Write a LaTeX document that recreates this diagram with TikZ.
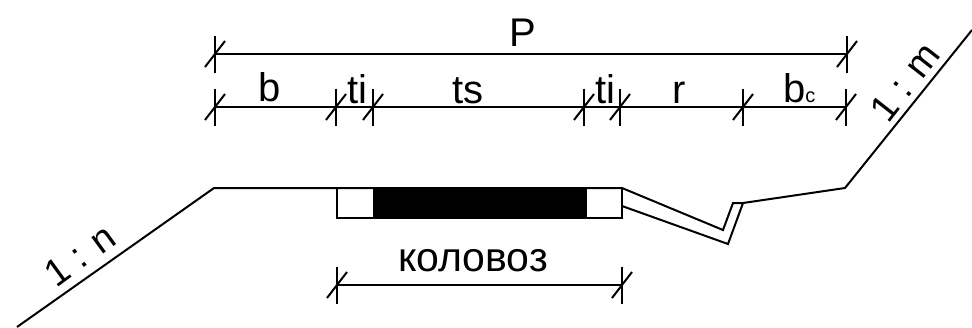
\documentclass[tikz,border=0pt]{standalone}
\usepackage{fontspec}
\setmainfont{Liberation Sans}
\newcommand{\dimtick}[2]{%
  \draw[tickline] (#1,#2-18.5) -- (#1,#2+18.5);
  \draw[tickline] (#1-10,#2+13) -- (#1+10,#2-13);
}
\tikzset{
  mainline/.style={line width=2pt,line join=miter,black},
  dimline/.style={line width=2pt,black},
  tickline/.style={line width=2pt,black},
  lbl/.style={inner sep=0pt,anchor=base,font=\fontsize{40}{40}\selectfont},
  slope/.style={inner sep=0pt,font=\fontsize{38}{38}\selectfont},
}
\begin{document}
\begin{tikzpicture}[x=1pt,y=-1pt]
\useasboundingbox (0,0) rectangle (972,327);
\fill[white] (0,0) rectangle (972,327);
% ground profile
\coordinate (g0) at (17,327);
\coordinate (g1) at (214,188);
\coordinate (g2) at (622,188);
\coordinate (g3) at (723,230);
\coordinate (g4) at (733,203);
\coordinate (g5) at (743,203);
\coordinate (g6) at (845,188);
\coordinate (g7) at (972,30);
\coordinate (d1) at (622,206);
\coordinate (d2) at (728,244);
\draw[mainline] (g0) -- (g1) -- (g2) -- (g3) -- (g4) -- (g5) -- (g6) -- (g7);
\draw[mainline] (d1) -- (d2) -- (g5);
% pavement
\draw[mainline] (337,188) rectangle (622,218);
\fill[black] (373,188) rectangle (587,218);
% dimension lines
\coordinate (p0) at (215,54);
\coordinate (p1) at (847,54);
\draw[dimline] (p0) -- (p1);
\dimtick{215}{54}
\dimtick{847}{54}
\coordinate (r0) at (215,107);
\coordinate (r1) at (846,107);
\draw[dimline] (r0) -- (r1);
\foreach \x in {215,336,373,584,620,743,846} {\dimtick{\x}{107}}
\coordinate (k0) at (337,285);
\coordinate (k1) at (622,285);
\draw[dimline] (k0) -- (k1);
\dimtick{337}{285}
\dimtick{622}{285}
% labels
\node[lbl] (lP) at (523,46) {P};
\node[lbl] (lb) at (270,101) {b};
\node[lbl] (lti1) at (357,103) {ti};
\node[lbl] (lts) at (468,103) {ts};
\node[lbl] (lti2) at (605,103) {ti};
\node[lbl] (lr) at (679,103) {r};
\node[lbl,anchor=base west] (lbc) at (783,102) {b\fontsize{20}{20}\selectfont c};
\node[lbl,font=\fontsize{41}{41}\selectfont] (lk) at (473,271) {коловоз};
\node[slope,rotate=36] (ln) at (80,255) {1 : n};
\node[slope,rotate=52] (lm) at (905,82) {1 : m};
\end{tikzpicture}
\end{document}
